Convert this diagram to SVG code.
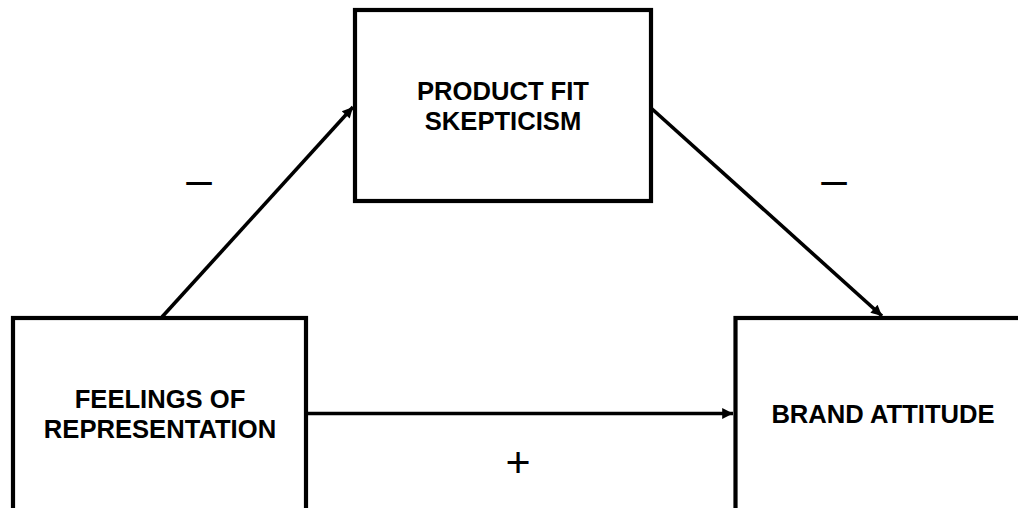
<svg xmlns="http://www.w3.org/2000/svg" width="1018" height="508" viewBox="0 0 1018 508">
<style>
.box{fill:#fff;stroke:#000;stroke-width:4.2}
.lbl{font-family:"Liberation Sans",Arial,sans-serif;font-weight:bold;font-size:25.6px;fill:#000;text-anchor:middle}
.sign{font-family:"Liberation Sans",Arial,sans-serif;fill:#000;text-anchor:middle}
.conn{stroke:#000;stroke-width:3.6;fill:none;marker-end:url(#ah)}
</style>
<defs>
<marker id="ah" viewBox="0 0 10 10" refX="10" refY="5" markerWidth="3.6" markerHeight="3" orient="auto" markerUnits="strokeWidth">
<path d="M0,0 L10,5 L0,10 z" fill="#000"/>
</marker>
</defs>
<rect width="1018" height="508" fill="#fff"/>
<g id="connectors">
<line class="conn" x1="162" y1="317" x2="353" y2="107"/>
<line class="conn" x1="651" y1="108" x2="882" y2="316"/>
<line class="conn" x1="306" y1="413.5" x2="733" y2="413.5"/>
</g>
<g id="product">
<rect class="box" x="355" y="10" width="296" height="191"/>
<text class="lbl" x="503" y="100">PRODUCT FIT</text>
<text class="lbl" x="503" y="130">SKEPTICISM</text>
</g>
<g id="feelings">
<rect class="box" x="13" y="318" width="293" height="210"/>
<text class="lbl" x="160" y="408">FEELINGS OF</text>
<text class="lbl" x="160" y="438">REPRESENTATION</text>
</g>
<g id="brand">
<rect class="box" x="735.5" y="318" width="295" height="210"/>
<text class="lbl" x="883" y="423">BRAND ATTITUDE</text>
</g>
<g id="signs">
<text class="sign" x="199" y="195" font-size="46">–</text>
<text class="sign" x="834" y="195" font-size="46">–</text>
<text class="sign" x="518" y="477" font-size="43">+</text>
</g>
</svg>
